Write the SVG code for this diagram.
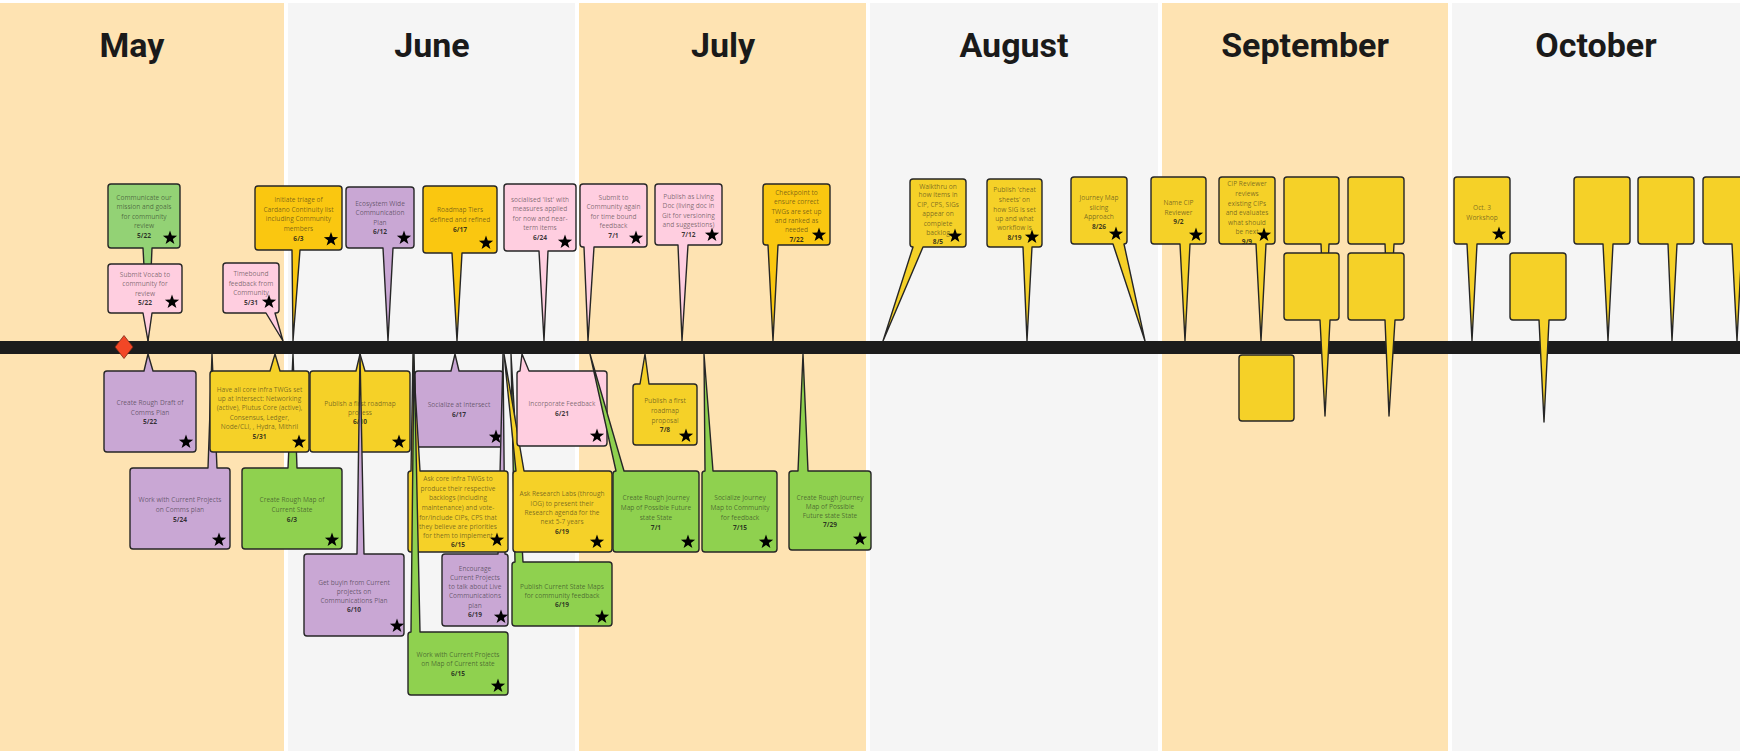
<svg xmlns="http://www.w3.org/2000/svg" xmlns:xlink="http://www.w3.org/1999/xlink" width="1740" height="751" viewBox="0 0 1740 751">
<defs>
<style>
.mo{fill:#fee3b2}.gr{fill:#f5f5f5}
.ml{font-family:Roboto,"Liberation Sans",sans-serif;font-size:34px;font-weight:700;fill:#1a1a1a;text-anchor:middle}
.c{stroke:#262626;stroke-width:1.4;stroke-linejoin:round}
.y{fill:#f5d128}.o{fill:#fac710}.g{fill:#93d275}.G{fill:#8fd14f}.p{fill:#ffcee0}.v{fill:#c9a7d4}
text.t{font-family:"Open Sans","Noto Sans",sans-serif;font-size:6.6px;fill:#1a1a1a;fill-opacity:.58;text-anchor:middle}
text.t .d{font-weight:700;fill-opacity:.85}
</style>
<path id="star" d="M0,-7.5 L1.76,-2.43 L7.13,-2.32 L2.85,0.93 L4.41,6.07 L0,3 L-4.41,6.07 L-2.85,0.93 L-7.13,-2.32 L-1.76,-2.43 Z" fill="#000"/>
</defs>
<rect width="1740" height="751" fill="#fff"/>
<g id="months">
<rect class="mo" x="0" y="3" width="284" height="748"/>
<rect class="gr" x="288" y="3" width="287" height="748"/>
<rect class="mo" x="579" y="3" width="287" height="748"/>
<rect class="gr" x="870" y="3" width="288" height="748"/>
<rect class="mo" x="1162" y="3" width="286" height="748"/>
<rect class="gr" x="1452" y="3" width="288" height="748"/>
<text class="ml" x="132" y="57">May</text>
<text class="ml" x="432" y="57">June</text>
<text class="ml" x="723" y="57">July</text>
<text class="ml" x="1014" y="57">August</text>
<text class="ml" x="1305" y="57">September</text>
<text class="ml" x="1596" y="57">October</text>
</g>
<g id="connectors">
<rect x="0" y="341" width="1740" height="13" fill="#1c1c1c"/>
</g>
<g id="milestone"><polygon points="124,335.5 133,347 124,358.5 115,347" fill="#f24726" stroke="#7a2a18" stroke-width="0.8"/></g>

<g id="n1"><path class="c g" d="M111,184 H177 Q180,184 180,187 V245 Q180,248 177,248 H152 L148,341 L143,248 H111 Q108,248 108,245 V187 Q108,184 111,184 Z"/>
<text class="t" x="144"><tspan x="144" y="199.5">Communicate our</tspan><tspan x="144" y="209">mission and goals</tspan><tspan x="144" y="218.5">for community</tspan><tspan x="144" y="228">review</tspan><tspan class="d" x="144" y="237.5">5/22</tspan></text><use href="#star" x="170" y="238"/></g>
<g id="n2"><path class="c p" d="M111,264 H179 Q182,264 182,267 V310 Q182,313 179,313 H152 L148,341 L143,313 H111 Q108,313 108,310 V267 Q108,264 111,264 Z"/>
<text class="t"><tspan x="145" y="276.5">Submit Vocab to</tspan><tspan x="145" y="286">community for</tspan><tspan x="145" y="295.5">review</tspan><tspan class="d" x="145" y="305">5/22</tspan></text><use href="#star" x="172" y="302"/></g>
<g id="n3"><path class="c p" d="M226,263 H276 Q279,263 279,266 V310 Q279,313 276,313 H275 L283,341 L266,313 H226 Q223,313 223,310 V266 Q223,263 226,263 Z"/>
<text class="t"><tspan x="251" y="275.5">Timebound</tspan><tspan x="251" y="285.5">feedback from</tspan><tspan x="251" y="295">Community</tspan><tspan class="d" x="251" y="305">5/31</tspan></text><use href="#star" x="269" y="302"/></g>
<g id="n4"><path class="c o" d="M258,186 H339 Q342,186 342,189 V247 Q342,250 339,250 H300 L293,341 L292,250 H258 Q255,250 255,247 V189 Q255,186 258,186 Z"/>
<text class="t"><tspan x="298.5" y="201.5">Initiate triage of</tspan><tspan x="298.5" y="211.5">Cardano Continuity list</tspan><tspan x="298.5" y="221">including Community</tspan><tspan x="298.5" y="230.5">members</tspan><tspan class="d" x="298.5" y="240.5">6/3</tspan></text><use href="#star" x="331" y="239.5"/></g>
<g id="n5"><path class="c v" d="M349,187 H411 Q414,187 414,190 V245 Q414,248 411,248 H393 L388,341 L383,248 H349 Q346,248 346,245 V190 Q346,187 349,187 Z"/>
<text class="t"><tspan x="380" y="205.5">Ecosystem Wide</tspan><tspan x="380" y="214.5">Communication</tspan><tspan x="380" y="224.5">Plan</tspan><tspan class="d" x="380" y="233.5">6/12</tspan></text><use href="#star" x="404" y="238"/></g>
<g id="n6"><path class="c o" d="M426,186 H494 Q497,186 497,189 V250 Q497,253 494,253 H462 L457,341 L452,253 H426 Q423,253 423,250 V189 Q423,186 426,186 Z"/>
<text class="t"><tspan x="460" y="211.5">Roadmap Tiers</tspan><tspan x="460" y="221.5">defined and refined</tspan><tspan class="d" x="460" y="231.5">6/17</tspan></text><use href="#star" x="486" y="243"/></g>
<g id="n7"><path class="c p" d="M507,184 H573 Q576,184 576,187 V248 Q576,251 573,251 H548 L544,341 L539,251 H507 Q504,251 504,248 V187 Q504,184 507,184 Z"/>
<text class="t"><tspan x="540" y="201.5">socialised 'list' with</tspan><tspan x="540" y="211">measures applied</tspan><tspan x="540" y="220.5">for now and near-</tspan><tspan x="540" y="230">term items</tspan><tspan class="d" x="540" y="239.5">6/24</tspan></text><use href="#star" x="565" y="242"/></g>
<g id="n8"><path class="c p" d="M583,184 H644 Q647,184 647,187 V244 Q647,247 644,247 H594 L588,341 L584,247 H583 Q580,247 580,244 V187 Q580,184 583,184 Z"/>
<text class="t"><tspan x="613.5" y="199.5">Submit to</tspan><tspan x="613.5" y="209">Community again</tspan><tspan x="613.5" y="218.5">for time bound</tspan><tspan x="613.5" y="228">feedback</tspan><tspan class="d" x="613.5" y="237.5">7/1</tspan></text><use href="#star" x="636" y="238"/></g>
<g id="n9"><path class="c p" d="M658,184 H719 Q722,184 722,187 V242 Q722,245 719,245 H688 L682,341 L678,245 H658 Q655,245 655,242 V187 Q655,184 658,184 Z"/>
<text class="t"><tspan x="688.5" y="198.5">Publish as Living</tspan><tspan x="688.5" y="208">Doc (living doc in</tspan><tspan x="688.5" y="217.5">Git for versioning</tspan><tspan x="688.5" y="227">and suggestions)</tspan><tspan class="d" x="688.5" y="236.5">7/12</tspan></text><use href="#star" x="712" y="235"/></g>
<g id="n10"><path class="c o" d="M766,184 H827 Q830,184 830,187 V242 Q830,245 827,245 H778 L773,341 L768,245 H766 Q763,245 763,242 V187 Q763,184 766,184 Z"/>
<text class="t"><tspan x="796.5" y="194.5">Checkpoint to</tspan><tspan x="796.5" y="204">ensure correct</tspan><tspan x="796.5" y="213.5">TWGs are set up</tspan><tspan x="796.5" y="223">and ranked as</tspan><tspan x="796.5" y="232">needed</tspan><tspan class="d" x="796.5" y="241.5">7/22</tspan></text><use href="#star" x="819" y="235"/></g>
<g id="n11"><path class="c y" d="M913,179 H963 Q966,179 966,182 V244 Q966,247 963,247 H923 L883,341 L913,247 Q910,247 910,244 V182 Q910,179 913,179 Z"/>
<text class="t"><tspan x="938" y="188.5">Walkthru on</tspan><tspan x="938" y="197">how items in</tspan><tspan x="938" y="206.5">CIP, CPS, SIGs</tspan><tspan x="938" y="215.5">appear on</tspan><tspan x="938" y="225.5">complete</tspan><tspan x="938" y="234.5">backlog</tspan><tspan class="d" x="938" y="244">8/5</tspan></text><use href="#star" x="955" y="236"/></g>
<g id="n12"><path class="c y" d="M990,179 H1039 Q1042,179 1042,182 V244 Q1042,247 1039,247 H1032 L1027,341 L1023,247 H990 Q987,247 987,244 V182 Q987,179 990,179 Z"/>
<text class="t"><tspan x="1014.5" y="191.5">Publish 'cheat</tspan><tspan x="1014.5" y="201.5">sheets' on</tspan><tspan x="1014.5" y="211.5">how SIG is set</tspan><tspan x="1014.5" y="220.5">up and what</tspan><tspan x="1014.5" y="229.5">workflow is</tspan><tspan class="d" x="1014.5" y="239.5">8/19</tspan></text><use href="#star" x="1032" y="237"/></g>
<g id="n13"><path class="c y" d="M1074,177 H1124 Q1127,177 1127,180 V241 Q1127,244 1124,244 L1145,341 L1113,244 H1074 Q1071,244 1071,241 V180 Q1071,177 1074,177 Z"/>
<text class="t"><tspan x="1099" y="199.5">Journey Map</tspan><tspan x="1099" y="209.5">slicing</tspan><tspan x="1099" y="218.5">Approach</tspan><tspan class="d" x="1099" y="228.5">8/26</tspan></text><use href="#star" x="1116" y="234"/></g>
<g id="n14"><path class="c y" d="M1154,177 H1203 Q1206,177 1206,180 V241 Q1206,244 1203,244 H1190 L1185,341 L1180,244 H1154 Q1151,244 1151,241 V180 Q1151,177 1154,177 Z"/>
<text class="t"><tspan x="1178.5" y="204.5">Name CIP</tspan><tspan x="1178.5" y="214.5">Reviewer</tspan><tspan class="d" x="1178.5" y="223.5">9/2</tspan></text><use href="#star" x="1196" y="235"/></g>
<g id="n15"><path class="c y" d="M1222,177 H1272 Q1275,177 1275,180 V241 Q1275,244 1272,244 H1266 L1261,341 L1256,244 H1222 Q1219,244 1219,241 V180 Q1219,177 1222,177 Z"/>
<text class="t"><tspan x="1247" y="185.5">CIP Reviewer</tspan><tspan x="1247" y="195.5">reviews</tspan><tspan x="1247" y="205.5">existing CIPs</tspan><tspan x="1247" y="214.5">and evaluates</tspan><tspan x="1247" y="224.5">what should</tspan><tspan x="1247" y="233.5">be next</tspan><tspan class="d" x="1247" y="243.5">9/9</tspan></text><use href="#star" x="1264" y="235"/></g>
<g id="n16"><path class="c y" d="M1287,177 H1336 Q1339,177 1339,180 V241 Q1339,244 1336,244 H1329 L1325,341 L1321,244 H1287 Q1284,244 1284,241 V180 Q1284,177 1287,177 Z"/></g>
<g id="n17"><path class="c y" d="M1351,177 H1401 Q1404,177 1404,180 V241 Q1404,244 1401,244 H1394 L1389,341 L1385,244 H1351 Q1348,244 1348,241 V180 Q1348,177 1351,177 Z"/></g>
<g id="n18"><path class="c y" d="M1287,253 H1336 Q1339,253 1339,256 V317 Q1339,320 1336,320 H1330 L1325,416 L1320,320 H1287 Q1284,320 1284,317 V256 Q1284,253 1287,253 Z"/></g>
<g id="n19"><path class="c y" d="M1351,253 H1401 Q1404,253 1404,256 V317 Q1404,320 1401,320 H1395 L1389,416 L1385,320 H1351 Q1348,320 1348,317 V256 Q1348,253 1351,253 Z"/></g>
<g id="n20"><rect class="c y" x="1239" y="355" width="55" height="66" rx="3"/></g>
<g id="n21"><path class="c y" d="M1457,177 H1507 Q1510,177 1510,180 V241 Q1510,244 1507,244 H1477 L1472,341 L1467,244 H1457 Q1454,244 1454,241 V180 Q1454,177 1457,177 Z"/>
<text class="t"><tspan x="1482" y="209.5">Oct. 3</tspan><tspan x="1482" y="219.5">Workshop</tspan></text><use href="#star" x="1499" y="234"/></g>
<g id="n22"><path class="c y" d="M1513,253 H1563 Q1566,253 1566,256 V317 Q1566,320 1563,320 H1549 L1544,422 L1539,320 H1513 Q1510,320 1510,317 V256 Q1510,253 1513,253 Z"/></g>
<g id="n23"><path class="c y" d="M1577,177 H1627 Q1630,177 1630,180 V241 Q1630,244 1627,244 H1613 L1608,341 L1603,244 H1577 Q1574,244 1574,241 V180 Q1574,177 1577,177 Z"/></g>
<g id="n24"><path class="c y" d="M1641,177 H1691 Q1694,177 1694,180 V241 Q1694,244 1691,244 H1677 L1672,341 L1668,244 H1641 Q1638,244 1638,241 V180 Q1638,177 1641,177 Z"/></g>
<g id="n25"><path class="c y" d="M1706,177 H1756 Q1759,177 1759,180 V241 Q1759,244 1756,244 H1742 L1737,341 L1732,244 H1706 Q1703,244 1703,241 V180 Q1703,177 1706,177 Z"/></g>

<g id="b4"><path class="c v" d="M133,468 H208 L212,354 L217,468 H227 Q230,468 230,471 V546 Q230,549 227,549 H133 Q130,549 130,546 V471 Q130,468 133,468 Z"/>
<text class="t"><tspan x="180" y="501.5">Work with Current Projects</tspan><tspan x="180" y="511.5">on Comms plan</tspan><tspan class="d" x="180" y="521.5">5/24</tspan></text><use href="#star" x="219" y="540"/></g>
<g id="b5"><path class="c G" d="M245,468 H288 L293,354 L297,468 H339 Q342,468 342,471 V546 Q342,549 339,549 H245 Q242,549 242,546 V471 Q242,468 245,468 Z"/>
<text class="t"><tspan x="292" y="501.5">Create Rough Map of</tspan><tspan x="292" y="511.5">Current State</tspan><tspan class="d" x="292" y="521.5">6/3</tspan></text><use href="#star" x="332" y="540"/></g>
<g id="b1"><path class="c v" d="M107,371 H144 L148,354 L153,371 H193 Q196,371 196,374 V449 Q196,452 193,452 H107 Q104,452 104,449 V374 Q104,371 107,371 Z"/>
<text class="t"><tspan x="150" y="404.5">Create Rough Draft of</tspan><tspan x="150" y="414.5">Comms Plan</tspan><tspan class="d" x="150" y="423.5">5/22</tspan></text><use href="#star" x="186" y="442"/></g>
<g id="b2"><path class="c y" d="M213,371 H270 L275,354 L280,371 H306 Q309,371 309,374 V449 Q309,452 306,452 H213 Q210,452 210,449 V374 Q210,371 213,371 Z"/>
<text class="t"><tspan x="259.5" y="391.5">Have all core infra TWGs set</tspan><tspan x="259.5" y="400.5">up at Intersect: Networking</tspan><tspan x="259.5" y="409.5">(active), Plutus Core (active),</tspan><tspan x="259.5" y="419.5">Consensus, Ledger,</tspan><tspan x="259.5" y="428.5">Node/CLI, , Hydra, Mithril</tspan><tspan class="d" x="259.5" y="438.5">5/31</tspan></text><use href="#star" x="299" y="442"/></g>
<g id="b3"><path class="c y" d="M313,371 H356 L360,354 L365,371 H407 Q410,371 410,374 V449 Q410,452 407,452 H313 Q310,452 310,449 V374 Q310,371 313,371 Z"/>
<text class="t"><tspan x="360" y="405.5">Publish a first roadmap</tspan><tspan x="360" y="414.5">process</tspan><tspan class="d" x="360" y="423.5">6/10</tspan></text><use href="#star" x="399" y="442"/></g>
<g id="b6"><path class="c v" d="M307,554 H357 L360,354 L364,554 H401 Q404,554 404,557 V633 Q404,636 401,636 H307 Q304,636 304,633 V557 Q304,554 307,554 Z"/>
<text class="t"><tspan x="354" y="584.5">Get buyin from Current</tspan><tspan x="354" y="593.5">projects on</tspan><tspan x="354" y="602.5">Communications Plan</tspan><tspan class="d" x="354" y="611.5">6/10</tspan></text><use href="#star" x="397" y="626"/></g>
<g id="b7"><path class="c v" d="M418,371 H451 L455,354 L459,371 H500 Q503,371 503,374 V444 Q503,447 500,447 H418 Q415,447 415,444 V374 Q415,371 418,371 Z"/>
<text class="t"><tspan x="459" y="406.5">Socialize at Intersect</tspan><tspan class="d" x="459" y="416.5">6/17</tspan></text><use href="#star" x="496" y="437"/></g>
<g id="b10"><path class="c v" d="M445,554 H498 L503,354 L505,554 Q508,554 508,557 V623 Q508,626 505,626 H445 Q442,626 442,623 V557 Q442,554 445,554 Z"/>
<text class="t"><tspan x="475" y="570.5">Encourage</tspan><tspan x="475" y="579.5">Current Projects</tspan><tspan x="475" y="588.5">to talk about Live</tspan><tspan x="475" y="597.5">Communications</tspan><tspan x="475" y="607.5">plan</tspan><tspan class="d" x="475" y="616.5">6/19</tspan></text><use href="#star" x="501" y="617"/></g>
<g id="b11"><path class="c y" d="M411,471 L413,354 L420,471 H505 Q508,471 508,474 V549 Q508,552 505,552 H411 Q408,552 408,549 V474 Q408,471 411,471 Z"/>
<text class="t"><tspan x="458" y="480.5">Ask core infra TWGs to</tspan><tspan x="458" y="490.5">produce their respective</tspan><tspan x="458" y="499.5">backlogs (including</tspan><tspan x="458" y="509.5">maintenance) and vote-</tspan><tspan x="458" y="519.5">for/include CIPs, CPS that</tspan><tspan x="458" y="528.5">they believe are priorities</tspan><tspan x="458" y="538">for them to implement</tspan><tspan class="d" x="458" y="546.5">6/15</tspan></text><use href="#star" x="497" y="540"/></g>
<g id="b9"><path class="c G" d="M411,632 L414,354 L420,632 H505 Q508,632 508,635 V692 Q508,695 505,695 H411 Q408,695 408,692 V635 Q408,632 411,632 Z"/>
<text class="t"><tspan x="458" y="656.5">Work with Current Projects</tspan><tspan x="458" y="665.5">on Map of Current state</tspan><tspan class="d" x="458" y="675.5">6/15</tspan></text><use href="#star" x="498" y="686"/></g>
<g id="b13"><path class="c G" d="M515,562 L511,354 L523,562 H609 Q612,562 612,565 V623 Q612,626 609,626 H515 Q512,626 512,623 V565 Q512,562 515,562 Z"/>
<text class="t"><tspan x="562" y="588.5">Publish Current State Maps</tspan><tspan x="562" y="597.5">for community feedback</tspan><tspan class="d" x="562" y="606.5">6/19</tspan></text><use href="#star" x="602" y="617"/></g>
<g id="b12"><path class="c y" d="M516,471 L504,354 L524,471 H609 Q612,471 612,474 V549 Q612,552 609,552 H516 Q513,552 513,549 V474 Q513,471 516,471 Z"/>
<text class="t"><tspan x="562" y="495.5">Ask Research Labs (through</tspan><tspan x="562" y="505.5">IOG) to present their</tspan><tspan x="562" y="514.5">Research agenda for the</tspan><tspan x="562" y="523.5">next 5-7 years</tspan><tspan class="d" x="562" y="533.5">6/19</tspan></text><use href="#star" x="597" y="542"/></g>
<g id="b8"><path class="c p" d="M520,371 L522,354 L529,371 H604 Q607,371 607,374 V443 Q607,446 604,446 H520 Q517,446 517,443 V374 Q517,371 520,371 Z"/>
<text class="t"><tspan x="562" y="405.5">Incorporate Feedback</tspan><tspan class="d" x="562" y="415.5">6/21</tspan></text><use href="#star" x="597" y="436"/></g>
<g id="b15"><path class="c G" d="M616,471 L590,354 L624,471 H696 Q699,471 699,474 V549 Q699,552 696,552 H616 Q613,552 613,549 V474 Q613,471 616,471 Z"/>
<text class="t"><tspan x="656" y="499.5">Create Rough Journey</tspan><tspan x="656" y="509.5">Map of Possible Future</tspan><tspan x="656" y="519.5">state State</tspan><tspan class="d" x="656" y="529.5">7/1</tspan></text><use href="#star" x="688" y="542"/></g>
<g id="b14"><path class="c y" d="M636,384 H640 L645,354 L649,384 H694 Q697,384 697,387 V442 Q697,445 694,445 H636 Q633,445 633,442 V387 Q633,384 636,384 Z"/>
<text class="t"><tspan x="665" y="402.5">Publish a first</tspan><tspan x="665" y="412.5">roadmap</tspan><tspan x="665" y="422.5">proposal</tspan><tspan class="d" x="665" y="431.5">7/8</tspan></text><use href="#star" x="686" y="436"/></g>
<g id="b16"><path class="c G" d="M705,471 L704,354 L713,471 H774 Q777,471 777,474 V549 Q777,552 774,552 H705 Q702,552 702,549 V474 Q702,471 705,471 Z"/>
<text class="t"><tspan x="740" y="499.5">Socialize Journey</tspan><tspan x="740" y="509.5">Map to Community</tspan><tspan x="740" y="519.5">for feedback</tspan><tspan class="d" x="740" y="529.5">7/15</tspan></text><use href="#star" x="766" y="542"/></g>
<g id="b17"><path class="c G" d="M792,471 H798 L803,354 L808,471 H868 Q871,471 871,474 V547 Q871,550 868,550 H792 Q789,550 789,547 V474 Q789,471 792,471 Z"/>
<text class="t"><tspan x="830" y="499.5">Create Rough Journey</tspan><tspan x="830" y="508.5">Map of Possible</tspan><tspan x="830" y="517.5">Future state State</tspan><tspan class="d" x="830" y="526.5">7/29</tspan></text><use href="#star" x="860" y="539"/></g>
</svg>
